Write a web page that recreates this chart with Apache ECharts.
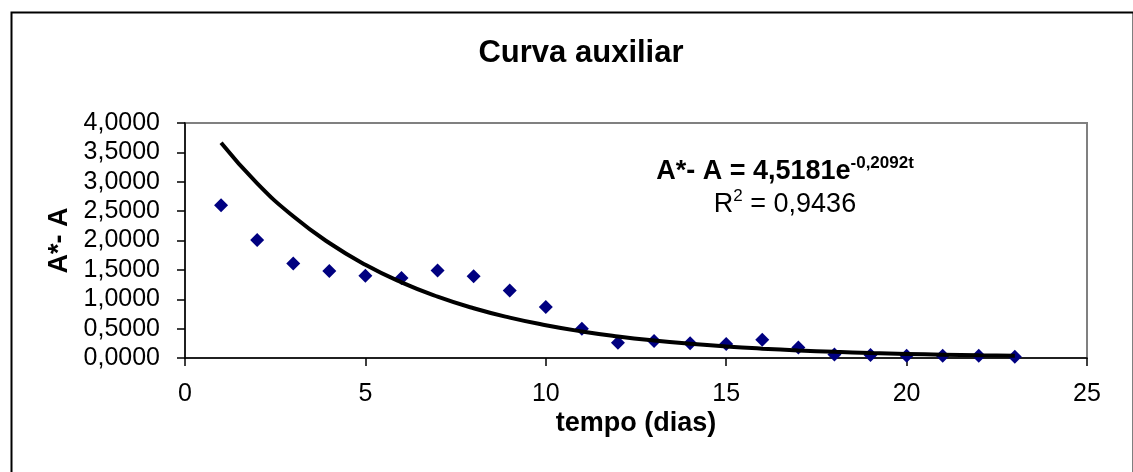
<!DOCTYPE html>
<html>
<head>
<meta charset="utf-8">
<script src="https://cdn.jsdelivr.net/npm/echarts@6/dist/echarts.min.js"></script>
<style>
  html, body { margin: 0; padding: 0; background: #fff; }
  #curva { width: 1133px; height: 472px; }
</style>
</head>
<body>
<div id="curva"></div>
<script>
  // dados
  var tempo = [1, 2, 3, 4, 5, 6, 7, 8, 9, 10, 11, 12, 13, 14, 15, 16, 17, 18, 19, 20, 21, 22, 23];
  var diferenca = [2.60, 2.01, 1.61, 1.48, 1.40, 1.36, 1.49, 1.39, 1.15, 0.87, 0.50, 0.26,
                   0.29, 0.25, 0.24, 0.31, 0.18, 0.06, 0.05, 0.04, 0.04, 0.04, 0.02];
  // linha de tendência (exponencial) lida ponto a ponto
  var tendencia = [3.665, 2.973, 2.412, 1.957, 1.587, 1.288, 1.045, 0.847, 0.687, 0.558, 0.452, 0.367,
                   0.298, 0.242, 0.196, 0.159, 0.129, 0.105, 0.085, 0.069, 0.056, 0.045, 0.037];
  var xTicks = [0, 5, 10, 15, 20, 25];
  var yTicks = [0, 0.5, 1, 1.5, 2, 2.5, 3, 3.5, 4];

  var fonte = "'Liberation Sans', Arial, sans-serif";
  var pontos = tempo.map(function (t, i) { return [t, diferenca[i]]; });
  var curva = tempo.map(function (t, i) { return [t, tendencia[i]]; });

  var chart = echarts.init(document.getElementById('curva'));
  var option = {
    backgroundColor: '#fff',
    animation: false,
    title: {
      text: 'Curva auxiliar',
      left: 576,
      top: 33,
      textAlign: 'center',
      textStyle: { fontFamily: fonte, fontSize: 31, fontWeight: 'bold', color: '#000' }
    },
    grid: {
      left: 185, right: 46, top: 123, bottom: 114,
      show: true, borderColor: '#808080', borderWidth: 2, backgroundColor: '#fff'
    },
    xAxis: {
      type: 'value',
      min: xTicks[0], max: xTicks[xTicks.length - 1], interval: 5,
      name: 'tempo (dias)',
      nameLocation: 'middle',
      nameGap: 52,
      nameTextStyle: { fontFamily: fonte, fontSize: 27, fontWeight: 'bold', color: '#000' },
      axisLine: { lineStyle: { color: '#000', width: 1.5 } },
      axisTick: { show: true, length: 8, lineStyle: { color: '#000', width: 1.5 } },
      axisLabel: { fontFamily: fonte, fontSize: 25, color: '#000', margin: 24 },
      splitLine: { show: false }
    },
    yAxis: {
      type: 'value',
      min: yTicks[0], max: yTicks[yTicks.length - 1], interval: 0.5,
      name: 'A*- A',
      nameLocation: 'middle',
      nameGap: 111,
      nameRotate: 90,
      nameTextStyle: { fontFamily: fonte, fontSize: 27, fontWeight: 'bold', color: '#000' },
      axisLine: { show: true, lineStyle: { color: '#000', width: 1.5 } },
      axisTick: { show: true, length: 8, lineStyle: { color: '#000', width: 1.5 } },
      axisLabel: {
        fontFamily: fonte, fontSize: 25, color: '#000', margin: 25,
        formatter: function (v) { return v.toFixed(4).replace('.', ','); }
      },
      splitLine: { show: false }
    },
    graphic: [
      {
        type: 'rect',
        left: 9, top: 10,
        shape: { width: 1122, height: 480 },
        style: { fill: 'none', stroke: '#000', lineWidth: 2 },
        silent: true
      },
      {
        type: 'text',
        x: 785, y: 155,
        style: {
          text: '{b|A*- A = 4,5181e}{s|-0,2092t}\n{n|R}{sn|2}{n| = 0,9436}',
          align: 'center',
          fill: '#000',
          rich: {
            b: { fontFamily: fonte, fontSize: 27, fontWeight: 'bold', lineHeight: 33 },
            s: { fontFamily: fonte, fontSize: 17, fontWeight: 'bold', verticalAlign: 'top', lineHeight: 15 },
            n: { fontFamily: fonte, fontSize: 27, lineHeight: 33 },
            sn: { fontFamily: fonte, fontSize: 17, verticalAlign: 'top', lineHeight: 15 }
          }
        }
      }
    ],
    series: [
      {
        name: 'A*- A',
        type: 'scatter',
        data: pontos,
        symbol: 'diamond',
        symbolSize: 14,
        itemStyle: { color: '#000080', opacity: 1 },
        z: 2
      },
      {
        name: 'tendencia',
        type: 'line',
        data: curva,
        smooth: true,
        showSymbol: false,
        lineStyle: { color: '#000', width: 4 },
        z: 3
      }
    ]
  };
  chart.setOption(option);
</script>
</body>
</html>
